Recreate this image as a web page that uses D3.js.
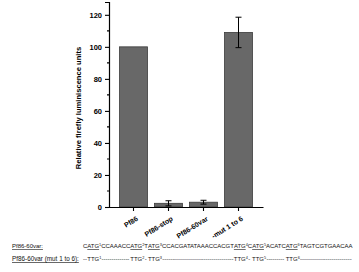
<!DOCTYPE html>
<html><head><meta charset="utf-8">
<script src="https://cdn.jsdelivr.net/npm/d3@7"></script>
<style>body{margin:0;background:#fff}svg{display:block}</style>
</head><body>
<script>
const categories = ["Pf86", "Pf86-stop", "Pf86-60var", "-mut 1 to 6"];
const values = [100, 2.3, 3.0, 109];
const errors = [0, 1.6, 1.2, 9.5];
const yTicks = [0, 20, 40, 60, 80, 100, 120];
const yLabel = "Relative firefly luminiscence units";
const seqLabel1 = "Pf86-60var:";
const seqLabel2 = "Pf86-60var (mut 1 to 6):";
// wild-type sequence segments: [plain prefix, underlined ATG, superscript]
const seqParts = [["C","ATG","1"],["CCAAACC","ATG","2"],["T","ATG","3"],["CCACGATATAAACCACGT","ATG","4"],["C","ATG","5"],["ACATC","ATG","6"],["TAGTCGTGAACAA","",""]];
const mutCodon = "TTG";

const W = 359, H = 272;
const svg = d3.select("body").append("svg").attr("width", W).attr("height", H);
const font = "Liberation Sans, Arial, sans-serif";

const x = d3.scaleBand().domain(categories).range([109, 263]).paddingInner(0.2).paddingOuter(0.3);
const y = d3.scaleLinear().domain([0, 128]).range([207, 2]);

svg.selectAll("rect.bar").data(categories).join("rect")
  .attr("x", d => x(d)).attr("width", x.bandwidth())
  .attr("y", (d, i) => y(values[i])).attr("height", (d, i) => y(0) - y(values[i]))
  .attr("fill", "#686868").attr("stroke", "#3c3c3c").attr("stroke-width", 0.8);

const eb = svg.append("g").attr("stroke", "#000").attr("stroke-width", 1);
categories.forEach((c, i) => {
  if (!errors[i]) return;
  const cx = x(c) + x.bandwidth() / 2;
  eb.append("line").attr("x1", cx).attr("x2", cx).attr("y1", y(values[i] + errors[i])).attr("y2", y(values[i] - errors[i]));
  [values[i] + errors[i], values[i] - errors[i]].forEach(v =>
    eb.append("line").attr("x1", cx - 3).attr("x2", cx + 3).attr("y1", y(v)).attr("y2", y(v)));
});

const yAxis = svg.append("g").attr("transform", "translate(109,0)")
  .call(d3.axisLeft(y).tickValues(yTicks).tickSize(4).tickPadding(3));
yAxis.select(".domain").attr("stroke-width", 1.2);
yAxis.selectAll(".tick line").attr("stroke-width", 1.1);
yAxis.selectAll("text").attr("font-family", font).attr("font-weight", "bold").attr("font-size", 7.5).attr("fill", "#000");
svg.append("g").selectAll("line").data(d3.range(10, 128, 20)).join("line")
  .attr("x1", 107).attr("x2", 109).attr("y1", d => y(d)).attr("y2", d => y(d))
  .attr("stroke", "#000").attr("stroke-width", 1.1);

const xAxis = svg.append("g").attr("transform", "translate(0,207)")
  .call(d3.axisBottom(x).tickSize(4).tickSizeOuter(0).tickPadding(3));
xAxis.select(".domain").attr("stroke-width", 1.2);
xAxis.selectAll(".tick line").attr("stroke-width", 1.1);
xAxis.selectAll("text").attr("font-family", font).attr("font-weight", "bold").attr("font-size", 7).attr("fill", "#000")
  .attr("text-anchor", "end").attr("dy", null).attr("y", 0)
  .attr("transform", "translate(5,13) rotate(-32)");

svg.append("text").attr("transform", "translate(81,108) rotate(-90)")
  .attr("text-anchor", "middle").attr("font-family", font)
  .attr("font-weight", "bold").attr("font-size", 7.6).text(yLabel);

// ---- sequence block ----
const seqFont = "Liberation Sans Narrow, Liberation Sans, Arial, sans-serif";
const y1 = 248, y2 = 261;
const tmp = svg.append("text").attr("font-family", seqFont);
function measure(t, fs) { tmp.attr("font-size", fs).text(t); return tmp.node().getComputedTextLength(); }

function label(t, yy, x2) {
  const fs = Math.min(7.5, 7.5 * (x2 - 12) / measure(t, 7.5));
  svg.append("text").attr("x", 12).attr("y", yy).attr("font-family", seqFont).attr("font-size", fs).attr("fill", "#111")
    .attr("text-decoration", "underline").text(t);
}
label(seqLabel1, y1, 43);
label(seqLabel2, y2, 79);

const pieces = [];
seqParts.forEach(p => {
  if (p[0]) pieces.push({t: p[0], fs: 7});
  if (p[1]) { pieces.push({t: p[1], fs: 7, u: true, codon: true}); pieces.push({t: p[2], fs: 4.5, sup: true}); }
});
const seqX0 = 83, seqX1 = 353;
const k = (seqX1 - seqX0) / d3.sum(pieces, p => measure(p.t, p.fs));
pieces.forEach(p => { p.fs *= k; p.w = measure(p.t, p.fs); });
let cur = seqX0;
const codons = [];
const line1 = svg.append("text").attr("font-family", seqFont).attr("fill", "#111");
pieces.forEach(p => {
  line1.append("tspan").attr("x", cur).attr("y", p.sup ? y1 - 2.5 : y1)
    .attr("font-size", p.fs).attr("text-decoration", p.u ? "underline" : null).text(p.t);
  if (p.codon) codons.push({x: cur, w: p.w, fs: p.fs});
  if (p.sup) { codons[codons.length - 1].supW = p.w; codons[codons.length - 1].supFs = p.fs; }
  cur += p.w;
});

const mainFs = 7 * k;
const dashW = measure("-", mainFs);
const line2 = svg.append("text").attr("font-family", seqFont).attr("fill", "#111").attr("font-size", mainFs);
function dashes(xa, xb) {
  const n = Math.floor((xb - xa) / dashW);
  if (n < 1) return;
  line2.append("tspan").attr("x", xa).attr("y", y2).text("-".repeat(n));
}
let prev = seqX0;
codons.forEach((c, i) => {
  const ttgW = measure(mutCodon, mainFs);
  const cx = c.x + c.w / 2 - ttgW / 2;
  dashes(prev, cx);
  line2.append("tspan").attr("x", cx).attr("y", y2).text(mutCodon);
  line2.append("tspan").attr("x", cx + ttgW).attr("y", y2 - 2.5).attr("font-size", c.supFs).text(String(i + 1));
  prev = cx + ttgW + c.supW + 0.3;
});
dashes(prev, seqX1);
tmp.remove();
</script>
</body></html>
